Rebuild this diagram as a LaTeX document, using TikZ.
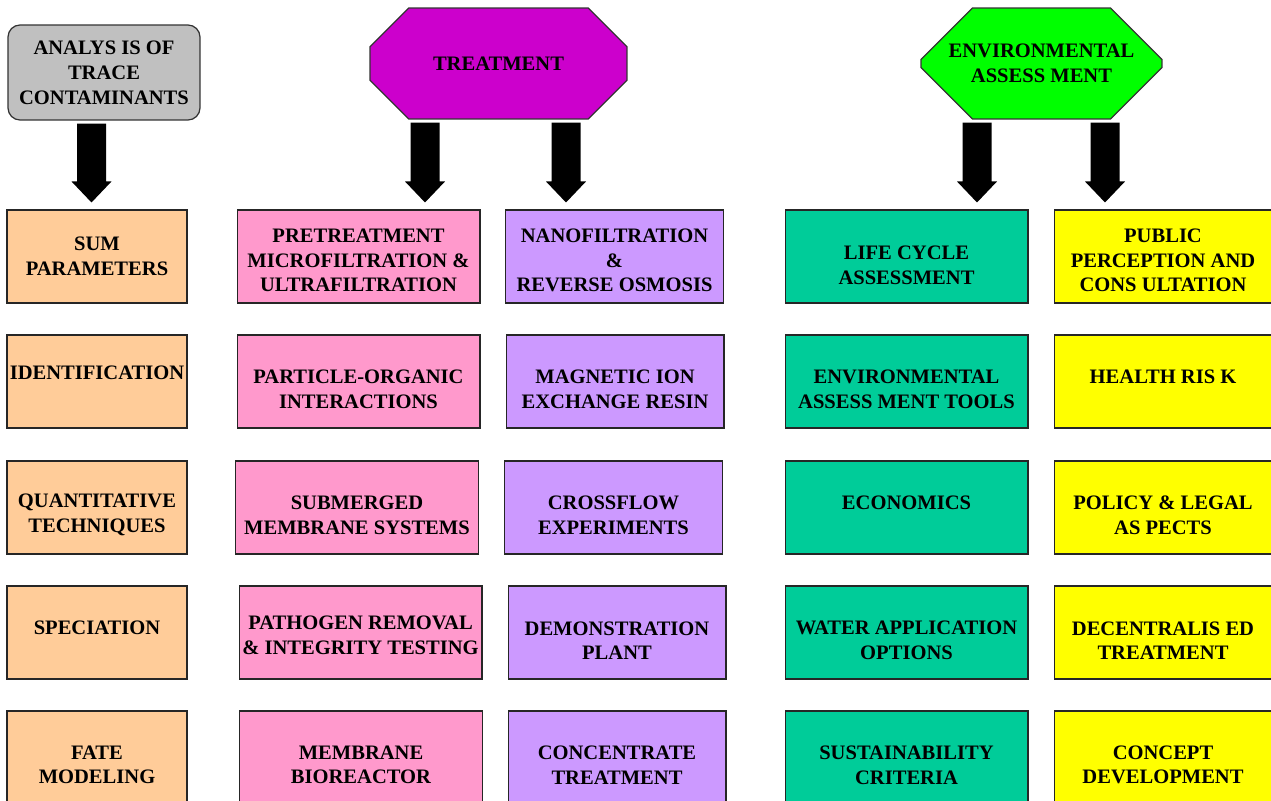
\documentclass[tikz,border=0pt]{standalone}
\usepackage{fontspec}
\setmainfont{Liberation Serif}
\usepackage{xcolor}
\usetikzlibrary{calc,
	positioning,
	shapes.misc}

\definecolor{peach}{HTML}{FFCC99}
\definecolor{rosy}{HTML}{FF99CC}
\definecolor{lavender}{HTML}{CC99FF}
\definecolor{jade}{HTML}{00CC99}
\definecolor{lemon}{HTML}{FFFF00}
\definecolor{silver}{HTML}{C0C0C0}
\definecolor{violet}{HTML}{CC00CC}
\definecolor{lime}{HTML}{00FF00}

\tikzset{
	cell/.style={draw=black!85, line width=0.6pt, rectangle, minimum height=1.86cm, inner sep=0pt},
	txt/.style={align=center, inner sep=0pt, font=\bfseries\fontsize{11.7}{14}\selectfont},
	hdr/.style={draw=black!80, line width=0.7pt, align=center, inner sep=0pt, font=\bfseries\fontsize{11.7}{14.2}\selectfont},
	octo/.style={hdr, chamfered rectangle, chamfered rectangle angle=45, chamfered rectangle xsep=0.64cm, chamfered rectangle ysep=0.64cm, minimum height=2.22cm},
	arrowfill/.style={fill=black}
}

% block arrow: column, header, box
\newcommand{\bigarrow}[3]{%
	\path (#2.south -| #1) coordinate (top) (#3.north -| #1) coordinate (bot);
	\fill[arrowfill] ($(top)+(-14.5,3)$) -- ($(bot)+(-14.5,-28)$) -- ($(bot)+(-20,-28)$) -- ($(bot)+(0,-7)$)
		-- ($(bot)+(20,-28)$) -- ($(bot)+(14.5,-28)$) -- ($(top)+(14.5,3)$) -- cycle;
}

\begin{document}
\begin{tikzpicture}[x=0.02cm, y=-0.02cm]
	\useasboundingbox (0,0) rectangle (1271,801);
	\clip (0,0) rectangle (1271,801);

	% headers
	\node[hdr, fill=silver, rounded corners=0.24cm, minimum width=3.84cm, minimum height=1.9cm] (hana) at (104,72.5) {ANALYS IS OF\\TRACE\\CONTAMINANTS};
	\node[octo, fill=violet, minimum width=5.14cm] (htre) at (498.5,63.5) {TREATMENT};
	\node[octo, fill=lime, minimum width=4.82cm] (henv) at (1041.5,63.5) {ENVIRONMENTAL\\ASSESS MENT};

	% analysis column
	\foreach \n/\x/\y/\dy/\t in {1/97/256.5/-0.5/{SUM\\PARAMETERS},
		2/97/381.5/-8.5/{IDENTIFICATION},
		3/97/507.5/7.5/{QUANTITATIVE\\TECHNIQUES},
		4/97/632.5/-4.5/{SPECIATION},
		5/97/757.5/7.5/{FATE\\MODELING}} {
		\node[cell, fill=peach, minimum width=3.6cm] (a\n) at (\x,\y) {};
		\node[txt] (ta\n) at ($(a\n)+(0,\dy)$) {\t};
	}

	% treatment columns
	\foreach \n/\x/\y/\dy/\t in {1/358.5/256.5/4/{PRETREATMENT\\MICROFILTRATION \&\\ULTRAFILTRATION},
		2/358.5/381.5/8/{PARTICLE-ORGANIC\\INTERACTIONS},
		3/357/507.5/7.5/{SUBMERGED\\MEMBRANE SYSTEMS},
		4/360.5/632.5/3/{PATHOGEN REMOVAL\\\& INTEGRITY TESTING},
		5/361/757.5/7.5/{MEMBRANE\\BIOREACTOR}} {
		\node[cell, fill=rosy, minimum width=4.86cm] (p\n) at (\x,\y) {};
		\node[txt] (tp\n) at ($(p\n)+(0,\dy)$) {\t};
	}
	\foreach \n/\x/\y/\dy/\t in {1/614.5/256.5/4/{NANOFILTRATION\\\&\\REVERSE OSMOSIS},
		2/615/381.5/8/{MAGNETIC ION\\EXCHANGE RESIN},
		3/613.5/507.5/7.5/{CROSSFLOW\\EXPERIMENTS},
		4/617/632.5/8/{DEMONSTRATION\\PLANT},
		5/617/757.5/7.5/{CONCENTRATE\\TREATMENT}} {
		\node[cell, fill=lavender, minimum width=4.36cm] (v\n) at (\x,\y) {};
		\node[txt] (tv\n) at ($(v\n)+(0,\dy)$) {\t};
	}

	% environmental columns
	\foreach \n/\x/\y/\dy/\t in {1/906.5/256.5/8.5/{LIFE CYCLE\\ASSESSMENT},
		2/906.5/381.5/8/{ENVIRONMENTAL\\ASSESS MENT TOOLS},
		3/906.5/507.5/-4.5/{ECONOMICS},
		4/906.5/632.5/8/{WATER APPLICATION\\OPTIONS},
		5/906.5/757.5/7.5/{SUSTAINABILITY\\CRITERIA}} {
		\node[cell, fill=jade, minimum width=4.86cm] (g\n) at (\x,\y) {};
		\node[txt] (tg\n) at ($(g\n)+(0,\dy)$) {\t};
	}
	\foreach \n/\x/\y/\dy/\t in {1/1163/256.5/4/{PUBLIC\\PERCEPTION AND\\CONS ULTATION},
		2/1163/381.5/-4.5/{HEALTH RIS K},
		3/1163/507.5/7.5/{POLICY \& LEGAL\\AS PECTS},
		4/1163/632.5/8/{DECENTRALIS ED\\TREATMENT},
		5/1163/757.5/7.5/{CONCEPT\\DEVELOPMENT}} {
		\node[cell, fill=lemon, minimum width=4.36cm] (y\n) at (\x,\y) {};
		\node[txt] (ty\n) at ($(y\n)+(0,\dy)$) {\t};
	}

	% arrows
	\coordinate (x1) at (91.5,0);
	\coordinate (x2) at (425,0);
	\coordinate (x3) at (566,0);
	\coordinate (x4) at (977,0);
	\coordinate (x5) at (1105,0);
	\bigarrow{x1}{hana}{a1}
	\bigarrow{x2}{htre}{p1}
	\bigarrow{x3}{htre}{v1}
	\bigarrow{x4}{henv}{g1}
	\bigarrow{x5}{henv}{y1}
\end{tikzpicture}
\end{document}
